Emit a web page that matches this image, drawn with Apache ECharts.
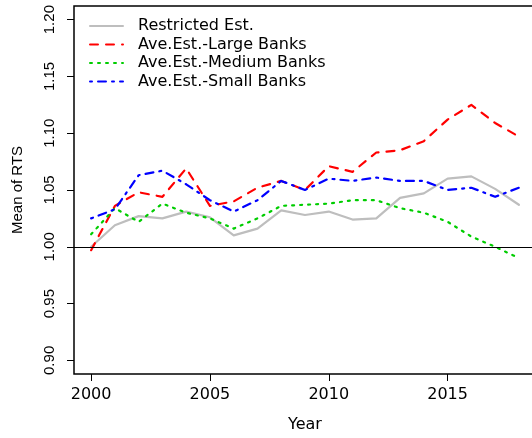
<!DOCTYPE html>
<html>
<head>
<meta charset="utf-8">
<script src="https://cdn.jsdelivr.net/npm/echarts@6/dist/echarts.min.js"></script>
<style>
html,body{margin:0;padding:0;background:#fff;}
#chart{width:532px;height:438px;}
</style>
</head>
<body>
<div id="chart"></div>
<script>
const years = [2000,2001,2002,2003,2004,2005,2006,2007,2008,2009,2010,2011,2012,2013,2014,2015,2016,2017,2018];
const restricted = [1.000,1.019,1.027,1.025,1.031,1.026,1.010,1.016,1.032,1.028,1.031,1.024,1.025,1.043,1.047,1.060,1.062,1.051,1.037];
const largeBanks = [0.997,1.036,1.048,1.044,1.069,1.036,1.040,1.052,1.058,1.050,1.071,1.066,1.083,1.085,1.093,1.112,1.125,1.109,1.097];
const mediumBanks = [1.011,1.034,1.022,1.038,1.030,1.025,1.016,1.025,1.036,1.037,1.038,1.041,1.041,1.034,1.030,1.022,1.009,1.000,0.990];
const smallBanks = [1.025,1.033,1.063,1.067,1.055,1.041,1.031,1.041,1.058,1.050,1.060,1.058,1.061,1.058,1.058,1.050,1.052,1.044,1.052];
const seriesNames = ['Restricted Est.','Ave.Est.-Large Banks','Ave.Est.-Medium Banks','Ave.Est.-Small Banks'];
const xTicks = [2000,2005,2010,2015];
const yTicks = [0.90,0.95,1.00,1.05,1.10,1.15,1.20];
const refLine = 1.00;

function pairs(vals){ return years.map((y,i)=>[y, vals[i]]); }

const hFont = 'DejaVu Sans';
const vFont = 'Liberation Sans';

const chart = echarts.init(document.getElementById('chart'), null, {renderer:'canvas'});
const mk = (name, vals, color, dash, extra) => Object.assign({
  name: name, type: 'line', data: pairs(vals), symbol: 'none', showSymbol: false,
  animation: false,
  lineStyle: {color: color, width: 2.2, type: dash, cap: 'round', join: 'round'},
  itemStyle: {color: color}
}, extra || {});

chart.setOption({
  animation: false,
  grid: {left: 74, right: -4, top: 6, bottom: 64, show: true, borderColor: '#000', borderWidth: 1.5,
         backgroundColor: 'transparent', containLabel: false, outerBoundsMode: 'none'},
  legend: {
    orient: 'vertical', left: 84, top: 13,
    itemWidth: 33, itemHeight: 14, itemGap: 2.5,
    itemStyle: {opacity: 0},
    textStyle: {fontFamily: hFont, fontSize: 16, color: '#000', padding: [0,0,0,10]},
    data: seriesNames
  },
  xAxis: {
    type: 'value', min: 1999.28, max: 2018.72,
    name: 'Year', nameLocation: 'middle', nameGap: 43,
    nameTextStyle: {fontFamily: hFont, fontSize: 16, color: '#000'},
    axisLine: {show: false},
    splitLine: {show: false},
    axisTick: {show: true, inside: false, length: 7, lineStyle: {color: '#000', width: 1}, customValues: xTicks},
    axisLabel: {customValues: xTicks, fontFamily: hFont, fontSize: 16, color: '#000', margin: 13, formatter: v => String(v)}
  },
  yAxis: {
    type: 'value', min: 0.888, max: 1.212,
    name: 'Mean of RTS', nameLocation: 'middle', nameGap: 49, nameRotate: 90,
    nameTextStyle: {fontFamily: vFont, fontSize: 15, color: '#000'},
    axisLine: {show: false},
    splitLine: {show: false},
    axisTick: {show: true, inside: false, length: 7, lineStyle: {color: '#000', width: 1}, customValues: yTicks},
    axisLabel: {customValues: yTicks, rotate: 90, fontFamily: vFont, fontSize: 15, color: '#000', margin: 17, formatter: v => v.toFixed(2)}
  },
  series: [
    mk(seriesNames[0], restricted, '#BEBEBE', 'solid', {
      markLine: {silent: true, symbol: 'none', label: {show: false}, animation: false,
        lineStyle: {color: '#000', width: 1, type: 'solid'}, data: [{yAxis: refLine}]}
    }),
    mk(seriesNames[1], largeBanks, '#FF0000', [8,8]),
    mk(seriesNames[2], mediumBanks, '#00CD00', [2,6]),
    mk(seriesNames[3], smallBanks, '#0000FF', [2,6,8,6])
  ]
});
</script>
</body>
</html>
